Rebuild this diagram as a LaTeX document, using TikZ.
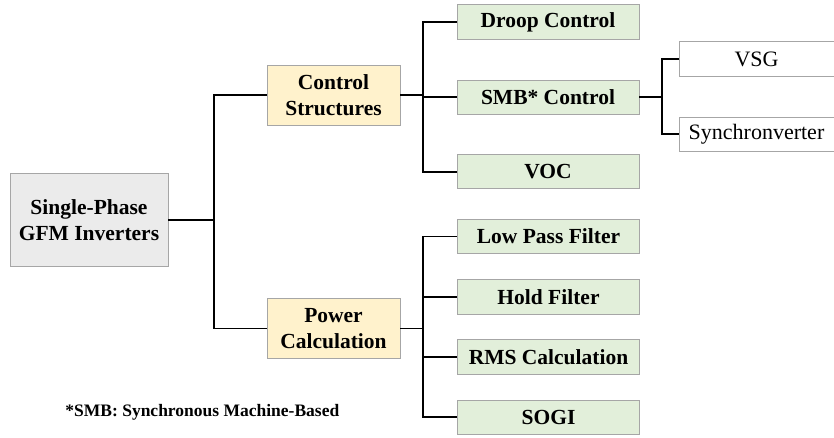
\documentclass[tikz,border=0pt]{standalone}
\usepackage{fontspec}
\setmainfont{Liberation Serif}
\usetikzlibrary{positioning}

\definecolor{topfill}{HTML}{EBEBEB}
\definecolor{midfill}{HTML}{FFF2CC}
\definecolor{leaffill}{HTML}{E2EFDA}
\definecolor{boxline}{HTML}{A6A6A6}

\begin{document}
\begin{tikzpicture}[x=1pt, y=-1pt,
    every node/.style = {draw=boxline, line width=0.8pt, align=center, inner sep=0pt,
                         font=\fontsize{21.5}{26.5}\selectfont\bfseries},
    topbox/.style = {fill=topfill, minimum width=158pt, minimum height=93pt},
    midbox/.style = {fill=midfill, minimum width=133pt, minimum height=60pt},
    leafbox/.style = {fill=leaffill, minimum width=182pt, minimum height=34.5pt},
    smbbox/.style = {fill=white, minimum width=155pt, minimum height=34.5pt,
                     font=\fontsize{22}{26}\selectfont},
    link/.style = {draw=black, line width=1.9pt},
    note/.style = {draw=none, font=\fontsize{17.5}{20}\selectfont\bfseries}
    ]
    \useasboundingbox (0,0) rectangle (834,438);

    \node[topbox] (gfm) at (89,220) {Single-Phase\\GFM Inverters};
    \node[midbox] (ctrl) at (333.5,95) {Control\\Structures};
    \node[midbox] (power) at (333.5,328.5) {Power\\Calculation};

    % control structures
    \node[leafbox] (droop) at (548,22) {Droop Control};
    \node[leafbox, below=40pt of droop] (smb) {SMB* Control};
    \node[leafbox, below=39pt of smb] (voc) {VOC};
    \node[smbbox] (vsg) at (756.5,59) {VSG};
    \node[smbbox, below=40pt of vsg] (synch) {Synchronverter};

    % power calculation
    \node[leafbox] (lowpass) at (548.5,236.5) {Low Pass Filter};
    \node[leafbox, below=25pt of lowpass] (hold) {Hold Filter};
    \node[leafbox, below=25pt of hold] (rms) {RMS Calculation};
    \node[leafbox, below=25pt of rms] (sogi) {SOGI};

    \node[note, anchor=base west] (fn) at (65,416) {*SMB: Synchronous Machine-Based};

    % connectors
    \draw[link] (gfm.east) -- ++(46,0) coordinate (busA) |- (ctrl.west);
    \draw[link] (busA) |- (power.west);
    \draw[link] (ctrl.east) -- ++(23,0) coordinate (busB);
    \foreach \n in {droop,smb,voc}
        \draw[link] (busB) |- (\n.west);
    \draw[link] (power.east) -- ++(23,0) coordinate (busC);
    \foreach \n in {lowpass,hold,rms,sogi}
        \draw[link] (busC) |- (\n.west);
    \draw[link] (smb.east) -- ++(23,0) coordinate (busD);
    \foreach \n in {vsg,synch}
        \draw[link] (busD) |- (\n.west);
\end{tikzpicture}
\end{document}
